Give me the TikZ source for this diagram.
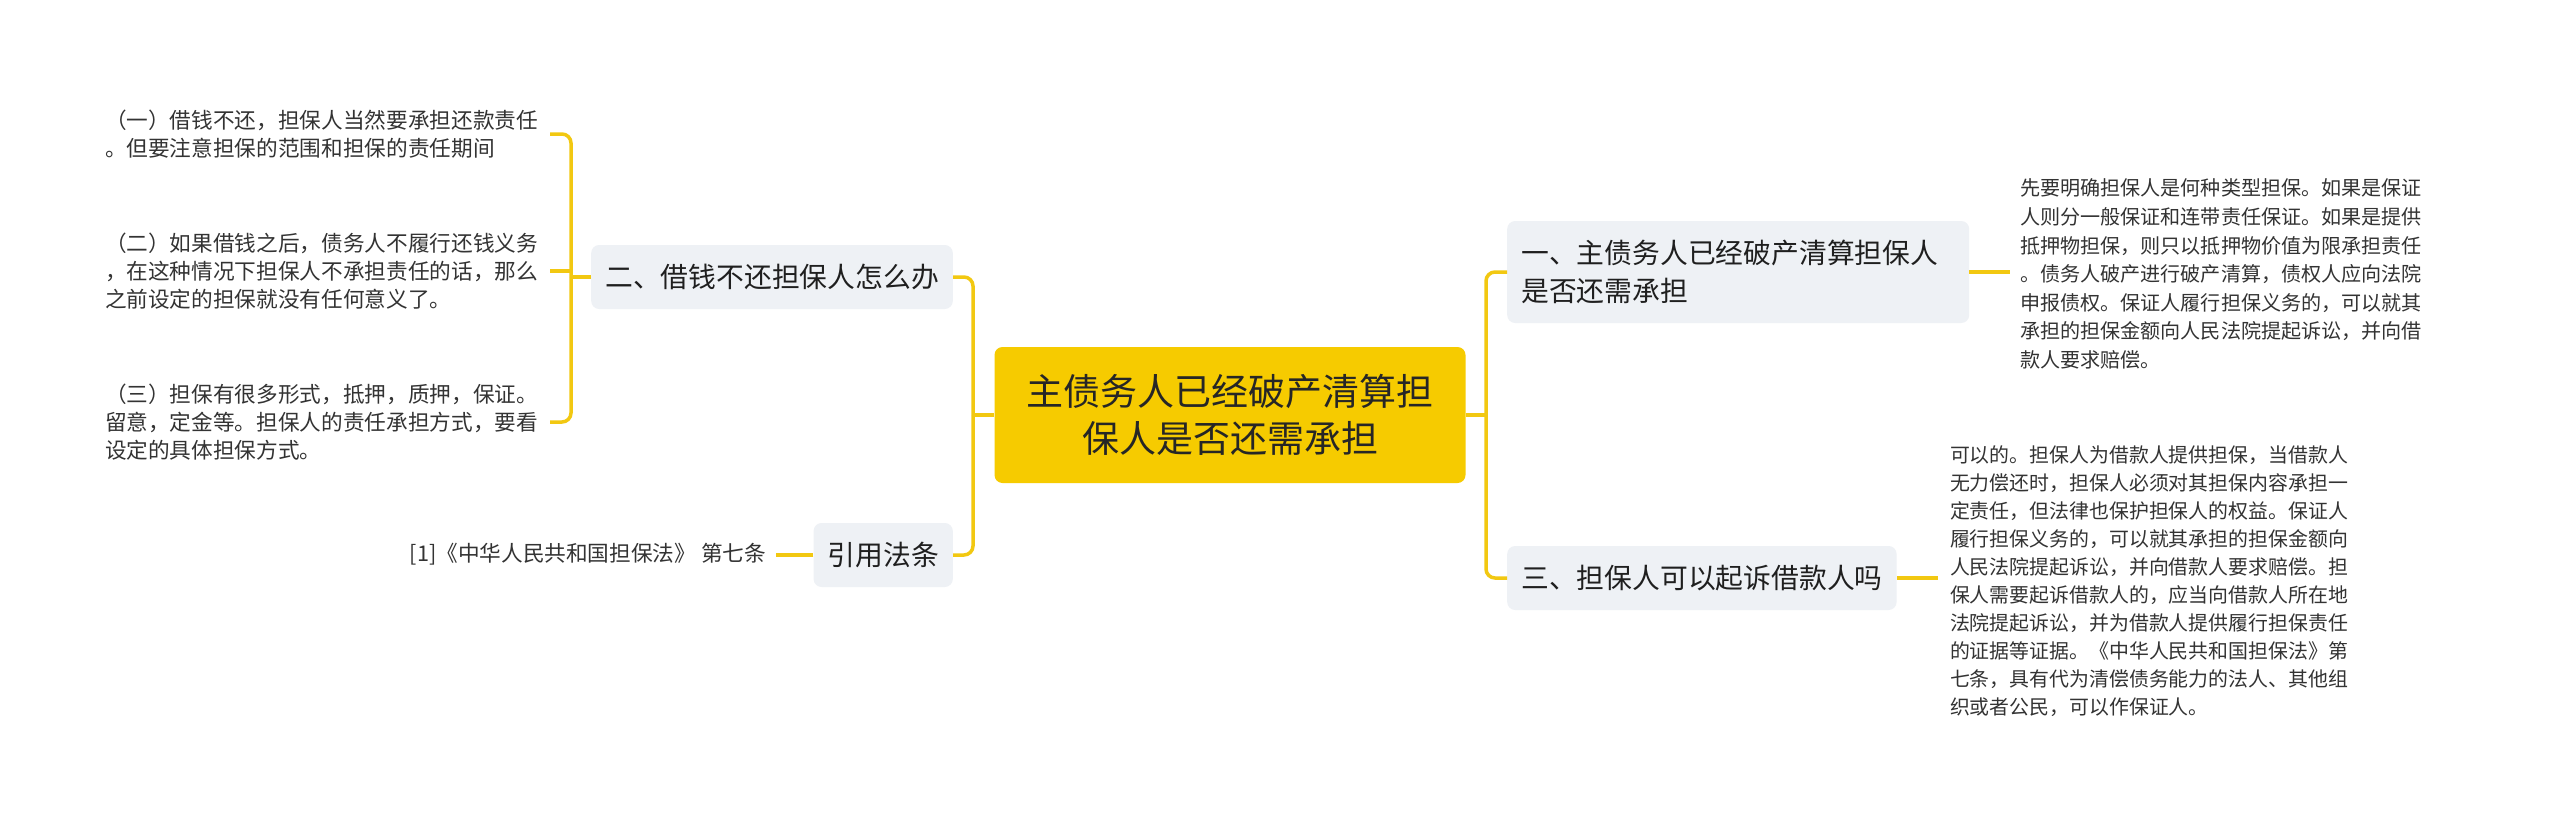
\documentclass[tikz,border=0pt]{standalone}
\usepackage{fontspec}
\setmainfont{Noto Sans CJK SC}
\usepackage{xcolor}
\usetikzlibrary{positioning}
\definecolor{mainfill}{RGB}{246,203,0}
\definecolor{subfill}{RGB}{238,241,245}
\definecolor{linkcol}{RGB}{242,200,17}
\definecolor{leaftext}{RGB}{51,51,51}
\tikzset{
  link/.style     = {draw=linkcol, line width=3.5pt, rounded corners=9pt},
  mainbox/.style  = {rectangle, fill=mainfill, rounded corners=8pt, align=center,
                     minimum width=471pt, minimum height=136pt, inner sep=0pt,
                     font=\fontsize{37}{47}\selectfont, text=black!85},
  subbox/.style   = {rectangle, fill=subfill, rounded corners=8pt, align=left,
                     inner xsep=14pt, minimum height=64pt,
                     font=\fontsize{27.8}{38}\selectfont, text=black!88},
  leaf/.style     = {inner sep=0pt, outer xsep=12pt, align=left, text=leaftext,
                     font=\fontsize{21.65}{28}\selectfont},
}

\begin{document}
\begin{tikzpicture}[x=1pt, y=-1pt]
    \useasboundingbox[fill=white] (0,0) rectangle (2560,822);

    % centre and branches
    \node (main) at (1230,415) [mainbox] {主债务人已经破产清算担\\保人是否还需承担};
    \node (b1)   at (1507,272) [subbox, anchor=west, text width=434pt, minimum height=102pt]
        {一、主债务人已经破产清算担保人\\是否还需承担};
    \node (b3)   at (1507,578) [subbox, anchor=west] {三、担保人可以起诉借款人吗};
    \node (b2)   at (953,277)  [subbox, anchor=east] {二、借钱不还担保人怎么办};
    \node (b4)   at (953,555)  [subbox, anchor=east] {引用法条};

    % leaves, left
    \node (l1) at (550,134) [leaf, anchor=east]
        {（一）借钱不还，担保人当然要承担还款责任\\。但要注意担保的范围和担保的责任期间};
    \node (l2) at (550,271) [leaf, anchor=east]
        {（二）如果借钱之后，债务人不履行还钱义务\\，在这种情况下担保人不承担责任的话，那么\\之前设定的担保就没有任何意义了。};
    \node (l3) at (550,422) [leaf, anchor=east]
        {（三）担保有很多形式，抵押，质押，保证。\\留意，定金等。担保人的责任承担方式，要看\\设定的具体担保方式。};
    \node (l4) at (776,554) [leaf, anchor=east, outer xsep=10pt] {[1]《中华人民共和国担保法》 第七条};

    % leaves, right
    \node (r1) at (2010,274) [leaf, anchor=west, outer xsep=10pt, font=\fontsize{20.1}{28.6}\selectfont]
        {先要明确担保人是何种类型担保。如果是保证\\人则分一般保证和连带责任保证。如果是提供\\抵押物担保，则只以抵押物价值为限承担责任\\。债务人破产进行破产清算，债权人应向法院\\申报债权。保证人履行担保义务的，可以就其\\承担的担保金额向人民法院提起诉讼，并向借\\款人要求赔偿。};
    \node (r3) at (1938,581) [leaf, anchor=west, font=\fontsize{19.9}{28}\selectfont]
        {可以的。担保人为借款人提供担保，当借款人\\无力偿还时，担保人必须对其担保内容承担一\\定责任，但法律也保护担保人的权益。保证人\\履行担保义务的，可以就其承担的担保金额向\\人民法院提起诉讼，并向借款人要求赔偿。担\\保人需要起诉借款人的，应当向借款人所在地\\法院提起诉讼，并为借款人提供履行担保责任\\的证据等证据。《中华人民共和国担保法》第\\七条，具有代为清偿债务能力的法人、其他组\\织或者公民，可以作保证人。};

    % junctions
    \coordinate (rj) at (1486,415);
    \coordinate (lj) at (973,415);
    \coordinate (lk) at (571,277);

    \draw [link] (main.east) -- (rj);
    \draw [link] (rj) |- (b1.west);
    \draw [link] (rj) |- (b3.west);
    \draw [link] (main.west) -- (lj);
    \draw [link] (lj) |- (b2.east);
    \draw [link] (lj) |- (b4.east);

    \draw [link] (b2.west) -- (lk);
    \draw [link] (lk) |- (l1.east);
    \draw [link] (lk) |- (l3.east);
    \draw [link] (lk |- l2.east) -- (l2.east);
    \draw [link] (b4.west) -- (b4.west -| l4.east);

    \draw [link] (b1.east) -- (b1.east -| r1.west);
    \draw [link] (b3.east) -- (b3.east -| r3.west);
\end{tikzpicture}
\end{document}
